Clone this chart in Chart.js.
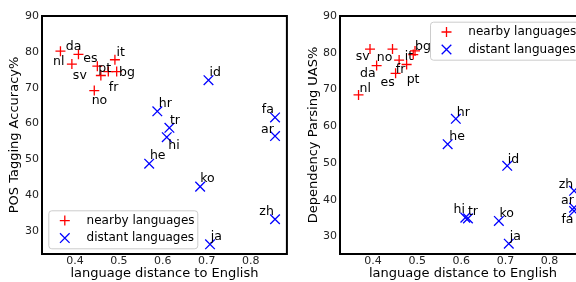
<!DOCTYPE html>
<html>

<head>
	<meta charset="UTF-8">
	<title>Language distance vs. transfer accuracy</title>
	<script src="https://cdn.jsdelivr.net/npm/chart.js"></script>
	<style>
		html, body {
			margin: 0;
			padding: 0;
			overflow: hidden;
			background: #ffffff;
		}

		.panel {
			position: absolute;
			top: 0;
		}
	</style>
</head>

<body>
	<div class="panel" style="left: 0px;"><canvas id="posChart" width="295" height="282"></canvas></div>
	<div class="panel" style="left: 295px;"><canvas id="uasChart" width="300" height="282"></canvas></div>

	<script>
		// --- data ---
		const nearbyLangs = ['nl', 'da', 'sv', 'es', 'pt', 'it', 'bg', 'fr', 'no'];
		const nearbyDist = [0.367, 0.408, 0.393, 0.451, 0.476, 0.491, 0.495, 0.459, 0.444];
		const nearbyPOS = [80.2, 79.3, 76.6, 76.0, 74.5, 77.8, 74.5, 73.4, 69.2];
		const nearbyUAS = [68.5, 76.5, 81.0, 74.4, 76.8, 79.5, 80.5, 78.0, 81.0];

		const distantLangs = ['hr', 'tr', 'hi', 'he', 'id', 'ko', 'ja', 'fa', 'ar', 'zh'];
		const distantDist = [0.5875, 0.615, 0.609, 0.569, 0.704, 0.685, 0.7075, 0.8555, 0.8555, 0.8555];
		const distantPOS = [63.4, 58.8, 56.2, 48.8, 72.1, 42.4, 26.3, 61.7, 56.5, 33.3];
		const distantUAS = [62.0, 34.9, 35.1, 55.1, 49.2, 34.2, 28.0, 36.9, 37.8, 42.4];

		const xTicks = [0.4, 0.5, 0.6, 0.7, 0.8];
		const yTicks = [30, 40, 50, 60, 70, 80, 90];

		// where each language label sits relative to its marker (px)
		const posLabelOffsets = {
			nl: [-7.4, 13.6], da: [-12.6, -4], sv: [1, 15], es: [-14, -4], pt: [-10, 0],
			it: [1.7, -3.3], bg: [2.3, 4], fr: [8, 15], no: [-2.6, 13.3],
			hr: [1.4, -4.4], tr: [0.5, -3.7], hi: [1.6, 11.7], he: [0.7, -4.5], id: [1, -4],
			ko: [0, -5], ja: [0.7, -4.3], fa: [-13.3, -4], ar: [-14, -3.3], zh: [-15.7, -4.3]
		};
		const uasLabelOffsets = {
			sv: [-14.3, 11], no: [-15.7, 12], da: [-16.6, 11], nl: [1, -3.3], it: [-8.5, 5],
			bg: [0, -1], fr: [-3.3, 13.3], es: [-15, 12.7], pt: [0, 18.3],
			hr: [1, -3], he: [1.6, -4.3], id: [0.6, -3.3], hi: [-11.7, -5], tr: [0, -3.3],
			ko: [0.7, -4], ja: [1, -3.7], zh: [-15.3, -3.3], ar: [-13, -4], fa: [-12.7, 11.7]
		};

		Chart.defaults.font.family = '"DejaVu Sans", sans-serif';
		Chart.defaults.color = '#000000';

		const RED = '#ff0000';
		const BLUE = '#0000ff';

		function toPoints(xs, ys) {
			return xs.map((x, i) => ({x: x, y: ys[i]}));
		}

		function drawCross(ctx, cx, cy, r, rotated) {
			ctx.beginPath();
			if (rotated) {
				ctx.moveTo(cx - r, cy - r); ctx.lineTo(cx + r, cy + r);
				ctx.moveTo(cx - r, cy + r); ctx.lineTo(cx + r, cy - r);
			} else {
				ctx.moveTo(cx - r, cy); ctx.lineTo(cx + r, cy);
				ctx.moveTo(cx, cy - r); ctx.lineTo(cx, cy + r);
			}
			ctx.stroke();
		}

		// frame, language labels and the matplotlib-like legend
		const decorPlugin = {
			id: 'decor',
			afterDatasetsDraw: (chart, args, opts) => {
				const {ctx, chartArea: a} = chart;
				const xs = chart.scales.x, ys = chart.scales.y;
				ctx.save();

				// language annotations
				ctx.font = '12.5px "DejaVu Sans"';
				ctx.fillStyle = '#000';
				ctx.textAlign = 'left';
				ctx.textBaseline = 'alphabetic';
				chart.data.datasets.forEach(ds => {
					ds.data.forEach((p, j) => {
						const name = ds.names[j];
						const off = opts.offsets[name] || [1, -4];
						ctx.fillText(name, xs.getPixelForValue(p.x) + off[0], ys.getPixelForValue(p.y) + off[1]);
					});
				});

				// axes box
				ctx.strokeStyle = '#000';
				ctx.lineWidth = 2;
				ctx.strokeRect(a.left, a.top, a.right - a.left, a.bottom - a.top);

				// legend
				const w = 149, h = 38;
				const bx = opts.legend === 'lower left' ? a.left + 6.3 : a.right - 7 - w;
				const by = opts.legend === 'lower left' ? a.bottom - 5.7 - h : a.top + 5.7;
				ctx.fillStyle = 'rgba(255,255,255,0.8)';
				ctx.strokeStyle = '#cccccc';
				ctx.lineWidth = 1;
				ctx.beginPath();
				ctx.roundRect(bx + 0.5, by + 0.5, w, h, 3);
				ctx.fill();
				ctx.stroke();

				ctx.lineWidth = 1.3;
				ctx.strokeStyle = RED;
				drawCross(ctx, bx + 16.5, by + 10.3, 5, false);
				ctx.strokeStyle = BLUE;
				drawCross(ctx, bx + 16.5, by + 27.8, 4.8, true);

				ctx.font = '12px "DejaVu Sans"';
				ctx.fillStyle = '#000';
				ctx.textBaseline = 'middle';
				ctx.fillText('nearby languages', bx + 38.3, by + 10.3);
				ctx.fillText('distant languages', bx + 38.3, by + 27.8);
				ctx.restore();
			}
		};

		function makeChart(canvasId, nearbyY, distantY, yMin, yTitle, yWidth, padRight, titlePad, offsets, legendLoc) {
			const ctx = document.getElementById(canvasId).getContext('2d');
			return new Chart(ctx, {
				type: 'scatter',
				data: {
					datasets: [{
						label: 'nearby languages',
						names: nearbyLangs,
						data: toPoints(nearbyDist, nearbyY),
						pointStyle: 'cross',
						pointRadius: 5,
						pointHoverRadius: 5,
						borderColor: RED,
						backgroundColor: RED,
						borderWidth: 1.3
					}, {
						label: 'distant languages',
						names: distantLangs,
						data: toPoints(distantDist, distantY),
						pointStyle: 'crossRot',
						pointRadius: 6.8,
						pointHoverRadius: 6.8,
						borderColor: BLUE,
						backgroundColor: BLUE,
						borderWidth: 1.3
					}]
				},
				options: {
					responsive: false,
					animation: false,
					layout: {
						padding: {left: 0, top: 16, right: padRight, bottom: 0}
					},
					scales: {
						x: {
							type: 'linear',
							min: 0.325,
							max: 0.8825,
							grid: {display: false, drawTicks: false},
							border: {display: false},
							ticks: {
								padding: 1,
								color: '#222',
								font: {size: 11},
								callback: v => v.toFixed(1)
							},
							title: {
								display: true,
								text: 'language distance to English',
								color: '#000',
								font: {size: 13},
								padding: {top: 0, bottom: 1}
							},
							afterBuildTicks: axis => { axis.ticks = xTicks.map(v => ({value: v})); },
							afterFit: axis => { axis.height = 28; }
						},
						y: {
							type: 'linear',
							min: yMin,
							max: 90,
							grid: {display: false, drawTicks: false},
							border: {display: false},
							ticks: {
								padding: 3,
								color: '#222',
								font: {size: 11},
								callback: v => String(v)
							},
							title: {
								display: true,
								text: yTitle,
								color: '#000',
								font: {size: 13},
								padding: {top: titlePad, bottom: 0}
							},
							afterBuildTicks: axis => { axis.ticks = yTicks.map(v => ({value: v})); },
							afterFit: axis => { axis.width = yWidth; }
						}
					},
					plugins: {
						legend: {display: false},
						tooltip: {enabled: false},
						decor: {offsets: offsets, legend: legendLoc}
					}
				},
				plugins: [decorPlugin]
			});
		}

		makeChart('posChart', nearbyPOS, distantPOS, 23.6, 'POS Tagging Accuracy%', 42, 8, 7, posLabelOffsets, 'lower left');
		makeChart('uasChart', nearbyUAS, distantUAS, 25.2, 'Dependency Parsing UAS%', 45, 9, 10.5, uasLabelOffsets, 'upper right');
	</script>
</body>

</html>
